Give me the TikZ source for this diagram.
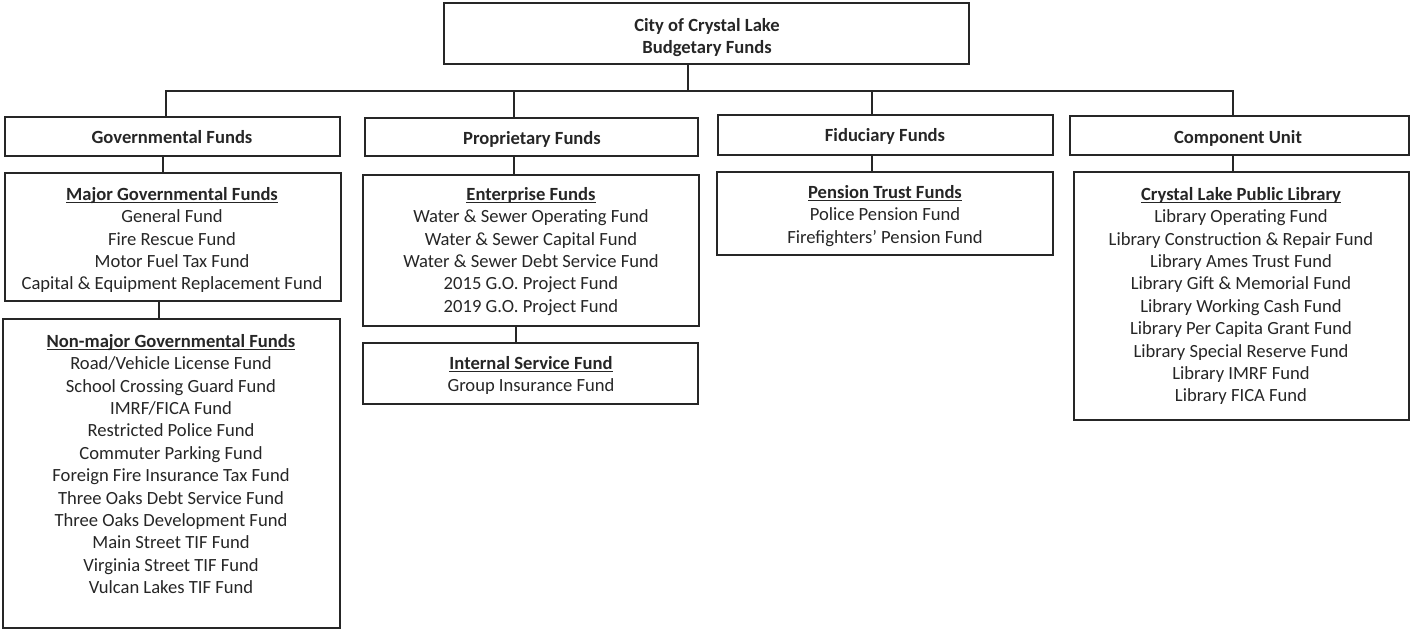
\documentclass[tikz,border=0pt]{standalone}
\usepackage{fontspec}
\setmainfont{Carlito}
\usetikzlibrary{fit}
\definecolor{ink}{HTML}{262626}
\newcommand\ulbox[1]{\setbox0\hbox{#1}\rlap{\rule[-2.4pt]{\wd0}{1.1pt}}\box0}
\newcommand\fl{\rule{0pt}{15pt}}
\begin{document}
\begin{tikzpicture}[x=1pt,y=-1pt,
  font=\fontsize{18.6}{22.4}\selectfont,
  box/.style={draw=ink, line width=1.3pt, rectangle, inner sep=0pt},
  lbl/.style={align=center, anchor=north, inner sep=0pt, text=ink},
  head/.style={anchor=base, inner sep=0pt, text=ink, font=\fontsize{18.6}{22.4}\selectfont\bfseries},
  link/.style={draw=ink, line width=1.3pt}]
\useasboundingbox (0,0) rectangle (1410,630);
% boxes
\node[box, fit={(444,3) (969,64)}] (top) {};
\node[box, fit={(5,117) (340,156)}] (gov) {};
\node[box, fit={(365,118) (698,156)}] (prop) {};
\node[box, fit={(718,115) (1053,155)}] (fid) {};
\node[box, fit={(1070,116) (1409,155)}] (comp) {};
\node[box, fit={(5,173) (341,301)}] (major) {};
\node[box, fit={(3,319) (340,628)}] (nonmajor) {};
\node[box, fit={(363,175) (699,326)}] (ent) {};
\node[box, fit={(363,343) (698,404)}] (internal) {};
\node[box, fit={(717,172) (1053,255)}] (pension) {};
\node[box, fit={(1074,172) (1409,420)}] (library) {};
% level-1 headings
\node[head] (govtxt) at (172,143) {Governmental Funds};
\node[head] (proptxt) at (532,144) {Proprietary Funds};
\node[head] (fidtxt) at (885,141) {Fiduciary Funds};
\node[head] (comptxt) at (1238,143) {Component Unit};
% texts
\node[lbl] (toptxt) at (707,16) {\fl\textbf{City of Crystal Lake}\\\textbf{Budgetary Funds}};
\node[lbl] (majortxt) at (172,185) {\fl\textbf{\ulbox{Major Governmental Funds}}\\General Fund\\Fire Rescue Fund\\Motor Fuel Tax Fund\\Capital \& Equipment Replacement Fund};
\node[lbl] (nonmajortxt) at (171,332) {\fl\textbf{\ulbox{Non-major Governmental Funds}}\\Road/Vehicle License Fund\\School Crossing Guard Fund\\IMRF/FICA Fund\\Restricted Police Fund\\Commuter Parking Fund\\Foreign Fire Insurance Tax Fund\\Three Oaks Debt Service Fund\\Three Oaks Development Fund\\Main Street TIF Fund\\Virginia Street TIF Fund\\Vulcan Lakes TIF Fund};
\node[lbl] (enttxt) at (531,185) {\fl\textbf{\ulbox{Enterprise Funds}}\\Water \& Sewer Operating Fund\\Water \& Sewer Capital Fund\\Water \& Sewer Debt Service Fund\\2015 G.O. Project Fund\\2019 G.O. Project Fund};
\node[lbl] (internaltxt) at (531,354) {\fl\textbf{\ulbox{Internal Service Fund}}\\Group Insurance Fund};
\node[lbl] (pensiontxt) at (885,183) {\fl\textbf{\ulbox{Pension Trust Funds}}\\Police Pension Fund\\Firefighters’ Pension Fund};
\node[lbl] (librarytxt) at (1241,185) {\fl\textbf{\ulbox{Crystal Lake Public Library}}\\Library Operating Fund\\Library Construction \& Repair Fund\\Library Ames Trust Fund\\Library Gift \& Memorial Fund\\Library Working Cash Fund\\Library Per Capita Grant Fund\\Library Special Reserve Fund\\Library IMRF Fund\\Library FICA Fund};
% junctions
\coordinate (jt) at (688,91);
\coordinate (barL) at (166,91);
\coordinate (j2) at (514,91);
\coordinate (j3) at (872,91);
\coordinate (barR) at (1233,91);
% connectors
\draw[link] (top.south -| jt) -- (jt);
\draw[link] (gov.north -| barL) -- (barL) -- (barR) -- (comp.north -| barR);
\draw[link] (prop.north -| j2) -- (j2);
\draw[link] (fid.north -| j3) -- (j3);
\draw[link] (gov.south -| 163,0) -- (major.north -| 163,0);
\draw[link] (major.south -| 159,0) -- (nonmajor.north -| 159,0);
\draw[link] (prop.south -| 514,0) -- (ent.north -| 514,0);
\draw[link] (ent.south -| 516,0) -- (internal.north -| 516,0);
\draw[link] (fid.south -| 872,0) -- (pension.north -| 872,0);
\draw[link] (comp.south -| 1233,0) -- (library.north -| 1233,0);
\end{tikzpicture}
\end{document}
